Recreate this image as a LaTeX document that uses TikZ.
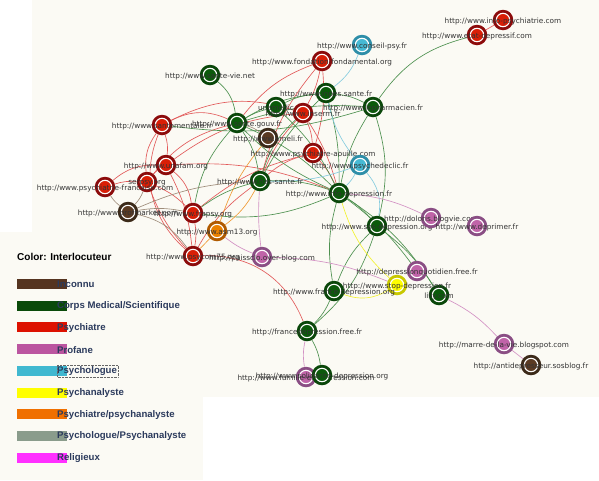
\documentclass[tikz,border=0pt]{standalone}
\usepackage{fontspec}
\setmainfont{DejaVu Sans}
\newfontfamily\legendfont{Liberation Sans}
\usepackage{tikz}
\usetikzlibrary{backgrounds}
\pgfdeclarelayer{edges}
\pgfsetlayers{background,edges,main}

\definecolor{panel}{HTML}{FBFAF4}
\definecolor{txtgray}{HTML}{333333}
\definecolor{legtxt}{HTML}{2B3A5C}
% rings (outer) and fills (inner)
\definecolor{ringred}{HTML}{8C0B0B}   \definecolor{fillred}{HTML}{D91E06}
\definecolor{ringgreen}{HTML}{0A470A} \definecolor{fillgreen}{HTML}{0B5A0B}
\definecolor{ringbrown}{HTML}{3C2A19} \definecolor{fillbrown}{HTML}{5A3A22}
\definecolor{ringpink}{HTML}{8A4E84}  \definecolor{fillpink}{HTML}{C064A8}
\definecolor{ringblue}{HTML}{2E8EA8}  \definecolor{fillblue}{HTML}{46B9D3}
\definecolor{ringyellow}{HTML}{C8C800}\definecolor{fillyellow}{HTML}{FFFF00}
\definecolor{ringorange}{HTML}{B05A00}\definecolor{fillorange}{HTML}{EA8000}
% edge colours
\definecolor{ered}{HTML}{E25A5A}
\definecolor{egreen}{HTML}{4E9150}
\definecolor{eblue}{HTML}{86CCDF}
\definecolor{epink}{HTML}{D392C4}
\definecolor{eyellow}{HTML}{F2F230}
\definecolor{eorange}{HTML}{F09A35}
\definecolor{ebrown}{HTML}{9E8C7A}
% legend colours
\definecolor{legbrown}{HTML}{553420}
\definecolor{leggreen}{HTML}{0A4A0A}
\definecolor{legred}{HTML}{DD1100}
\definecolor{legpink}{HTML}{BB55A0}
\definecolor{legblue}{HTML}{40B8D0}
\definecolor{legyellow}{HTML}{FFFF00}
\definecolor{legorange}{HTML}{F07000}
\definecolor{leggray}{HTML}{8A9C8C}
\definecolor{legmagenta}{HTML}{FF30FF}

\begin{document}
\begin{tikzpicture}[
			x=1pt, y=-1pt,
			site/.style 2 args={circle, inner sep=0pt, minimum size=20.5pt, fill=#1,
				path picture={
					\fill[#2] (path picture bounding box.center) circle (6.9pt);
					\draw[white, line width=1.1pt] (path picture bounding box.center) circle (6.7pt);}},
			psy/.style={site={ringred}{fillred}},
			med/.style={site={ringgreen}{fillgreen}},
			unk/.style={site={ringbrown}{fillbrown}},
			prof/.style={site={ringpink}{fillpink}},
			psylog/.style={site={ringblue}{fillblue}},
			psyana/.style={site={ringyellow}{fillyellow}},
			psypsy/.style={site={ringorange}{fillorange}},
			lbl/.style={font=\fontsize{7.3}{8}\selectfont, text=txtgray, inner sep=0pt, yshift=-1pt},
			link/.style={line width=0.65pt, draw=#1},
			swatch/.style={fill=#1, draw=none},
			legitem/.style={font=\legendfont\bfseries\fontsize{9.6}{11}\selectfont, text=legtxt, anchor=west, inner sep=0pt}
			]
			\useasboundingbox (0,0) rectangle (599,480);
			
			% fonds
			\begin{pgfonlayer}{background}
			\fill[white] (0,0) rectangle (599,480);
			\fill[panel] (32,0) rectangle (599,397);
			\fill[panel] (0,232) rectangle (203,480);
			\end{pgfonlayer}
			
			% sites
			\node[psy]    (infopsy)   at (503,20)  [label={[lbl]center:{http://www.info-psychiatrie.com}}] {};
			\node[psy]    (etatdep)   at (477,35)  [label={[lbl]center:{http://www.etat-depressif.com}}] {};
			\node[psylog] (conseil)   at (362,45)  [label={[lbl]center:{http://www.conseil-psy.fr}}] {};
			\node[psy]    (fondation) at (322,61)  [label={[lbl]center:{http://www.fondation-fondamental.org}}] {};
			\node[med]    (santevie)  at (210,75)  [label={[lbl]center:{http://www.sante-vie.net}}] {};
			\node[med]    (inpes)     at (326,93)  [label={[lbl]center:{http://www.inpes.sante.fr}}] {};
			\node[med]    (lepharm)   at (373,107) [label={[lbl]center:{http://www.lepharmacien.fr}}] {};
			\node[med]    (unamedic)  at (276,107) [label={[lbl]center:{unamedic}}] {};
			\node[psy]    (inserm)    at (303,113) [label={[lbl]center:{http://www.inserm.fr}}] {};
			\node[med]    (santegouv) at (237,123) [label={[lbl]center:{http://www.sante.gouv.fr}}] {};
			\node[psy]    (santement) at (162,125) [label={[lbl]center:{http://www.santementale.fr}}] {};
			\node[unk]    (ameli)     at (268,138) [label={[lbl]center:{http://www.ameli.fr}}] {};
			\node[psy]    (aouille)   at (313,153) [label={[lbl]center:{http://www.psychiatre-aouille.com}}] {};
			\node[psylog] (psydeclic) at (360,165) [label={[lbl]center:{http://www.psychedeclic.fr}}] {};
			\node[psy]    (unafam)    at (166,165) [label={[lbl]center:{http://www.unafam.org}}] {};
			\node[med]    (hassante)  at (260,181) [label={[lbl]center:{http://www.has-sante.fr}}] {};
			\node[med]    (infodep)   at (339,193) [label={[lbl]center:{http://www.info-depression.fr}}] {};
			\node[psy]    (serpsy)    at (147,182) [label={[lbl]center:{serpsy.org}}] {};
			\node[psy]    (psyfr)     at (105,187) [label={[lbl]center:{http://www.psychiatrie-francaise.com}}] {};
			\node[unk]    (profmkt)   at (128,212) [label={[lbl]center:{http://www.profmarket.com}}] {};
			\node[psy]    (frapsy)    at (193,213) [label={[lbl]center:{http://www.frapsy.org}}] {};
			\node[psypsy] (asm)       at (217,231) [label={[lbl]center:{http://www.asm13.org}}] {};
			\node[psy]    (psycom)    at (193,256) [label={[lbl]center:{http://www.psycom75.org}}] {};
			\node[prof]   (paissclo)  at (262,257) [label={[lbl]center:{http://paissclo.over-blog.com}}] {};
			\node[med]    (sosdep)    at (377,226) [label={[lbl]center:{http://www.sos-depression.org}}] {};
			\node[prof]   (doloris)   at (431,218) [label={[lbl]center:{http://doloris.blogvie.com}}] {};
			\node[prof]   (deprimer)  at (477,226) [label={[lbl]center:{http://www.deprimer.fr}}] {};
			\node[prof]   (depquot)   at (417,271) [label={[lbl]center:{http://depressionquotidien.free.fr}}] {};
			\node[med]    (lilly)     at (439,295) [label={[lbl]center:{lilly.com}}] {};
			\node[psyana] (stopdep)   at (397,285) [label={[lbl]center:{http://www.stop-depression.fr}}] {};
			\node[med]    (francedep) at (334,291) [label={[lbl]center:{http://www.france-depression.org}}] {};
			\node[med]    (fdfree)    at (307,331) [label={[lbl]center:{http://francedepression.free.fr}}] {};
			\node[prof]   (famille)   at (306,377) [label={[lbl]center:{http://www.famille-et-depression.com}}] {};
			\node[med]    (solidep)   at (322,375) [label={[lbl]center:{http://www.solidarite-depression.org}}] {};
			\node[prof]   (marre)     at (504,344) [label={[lbl]center:{http://marre-de-la-vie.blogspot.com}}] {};
			\node[unk]    (antidep)   at (531,365) [label={[lbl]center:{http://antidepresseur.sosblog.fr}}] {};
			
			% liens
			\begin{pgfonlayer}{edges}
			% psychiatres
			\draw[link=ered] (infopsy) -- (etatdep);
			\draw[link=ered] (fondation) to[bend left=8] (inserm);
			\draw[link=ered] (fondation) to[bend right=15] (santegouv);
			\draw[link=ered] (fondation) to[bend left=10] (aouille);
			\draw[link=ered] (fondation) to[bend right=12] (hassante);
			\draw[link=ered] (santement) to[bend left=25] (santegouv);
			\draw[link=ered] (santement) to[bend left=22] (inserm);
			\draw[link=ered] (santement) to[bend left=12] (unafam);
			\draw[link=ered] (santement) to[bend right=20] (serpsy);
			\draw[link=ered] (santement) to[bend right=35] (psycom);
			\draw[link=ered] (unafam) to[bend right=10] (serpsy);
			\draw[link=ered] (unafam) to[bend left=20] (frapsy);
			\draw[link=ered] (unafam) to[bend left=15] (inserm);
			\draw[link=ered] (unafam) to[bend left=12] (infodep);
			\draw[link=ered] (unafam) to[bend left=10] (psycom);
			\draw[link=ered] (psyfr) to[bend left=10] (serpsy);
			\draw[link=ered] (psyfr) to[bend left=20] (unafam);
			\draw[link=ered] (serpsy) to[bend left=10] (frapsy);
			\draw[link=ered] (serpsy) to[bend left=18] (santegouv);
			\draw[link=ered] (serpsy) to[bend right=10] (psycom);
			\draw[link=ered] (frapsy) to[bend left=10] (psycom);
			\draw[link=ered] (frapsy) to[bend left=12] (aouille);
			\draw[link=ered] (psycom) to[bend left=35] (fdfree);
			\draw[link=ered] (psycom) to[bend left=12] (hassante);
			\draw[link=ered] (inserm) to[bend left=10] (aouille);
			\draw[link=ered] (inserm) to[bend right=10] (hassante);
			\draw[link=ered] (inserm) to[bend left=8] (infodep);
			\draw[link=ered] (aouille) to[bend left=8] (infodep);
			\draw[link=ered] (aouille) to[bend right=12] (hassante);
			% medical / scientifique
			\draw[link=egreen] (santevie) to[bend left=20] (santegouv);
			\draw[link=egreen] (santegouv) to[bend left=12] (inpes);
			\draw[link=egreen] (santegouv) to[bend left=10] (lepharm);
			\draw[link=egreen] (santegouv) to[bend left=12] (hassante);
			\draw[link=egreen] (santegouv) to[bend right=10] (infodep);
			\draw[link=egreen] (santegouv) to[bend left=8] (unamedic);
			\draw[link=egreen] (santegouv) to[bend right=15] (frapsy);
			\draw[link=egreen] (inpes) to[bend left=10] (lepharm);
			\draw[link=egreen] (inpes) to[bend right=8] (hassante);
			\draw[link=egreen] (inpes) to[bend left=8] (infodep);
			\draw[link=egreen] (inpes) to[bend right=10] (unamedic);
			\draw[link=egreen] (lepharm) to[bend left=20] (etatdep);
			\draw[link=egreen] (lepharm) to[bend right=10] (infodep);
			\draw[link=egreen] (lepharm) to[bend left=15] (sosdep);
			\draw[link=egreen] (lepharm) to[bend left=12] (santement);
			\draw[link=egreen] (unamedic) to[bend left=10] (infodep);
			\draw[link=egreen] (hassante) to[bend left=10] (infodep);
			\draw[link=egreen] (hassante) to[bend right=10] (frapsy);
			\draw[link=egreen] (hassante) to[bend left=15] (inserm);
			\draw[link=egreen] (infodep) to[bend left=8] (sosdep);
			\draw[link=egreen] (infodep) to[bend left=12] (lilly);
			\draw[link=egreen] (infodep) to[bend left=8] (depquot);
			\draw[link=egreen] (infodep) to[bend right=12] (francedep);
			\draw[link=egreen] (infodep) to[bend left=15] (frapsy);
			\draw[link=egreen] (infodep) to[bend right=10] (santegouv);
			\draw[link=egreen] (sosdep) to[bend right=12] (francedep);
			\draw[link=egreen] (sosdep) to[bend left=10] (lilly);
			\draw[link=egreen] (sosdep) to[bend left=15] (fdfree);
			\draw[link=egreen] (francedep) to[bend left=10] (fdfree);
			\draw[link=egreen] (fdfree) to[bend left=10] (solidep);
			% psychologues
			\draw[link=eblue] (conseil) to[bend left=15] (inpes);
			\draw[link=eblue] (psydeclic) to[bend left=8] (infodep);
			\draw[link=eblue] (psydeclic) to[bend left=25] (sosdep);
			\draw[link=eblue] (psydeclic) to[bend left=10] (hassante);
			\draw[link=eblue] (psydeclic) to[bend left=12] (inpes);
			% profanes
			\draw[link=epink] (paissclo) to[bend left=5] (hassante);
			\draw[link=epink] (paissclo) to[bend left=8] (asm);
			\draw[link=epink] (paissclo) to[bend left=10] (stopdep);
			\draw[link=epink] (doloris) to[bend right=10] (infodep);
			\draw[link=epink] (lilly) to[bend left=10] (marre);
			\draw[link=epink] (marre) -- (antidep);
			\draw[link=epink] (fdfree) to[bend right=10] (famille);
			% psychanalyste
			\draw[link=eyellow] (stopdep) to[bend left=15] (infodep);
			\draw[link=eyellow] (stopdep) to[bend left=25] (francedep);
			% psychiatre/psychanalyste
			\draw[link=eorange] (asm) to[bend right=12] (hassante);
			\draw[link=eorange] (asm) to[bend left=10] (ameli);
			\draw[link=eorange] (asm) -- (psycom);
			% inconnus
			\draw[link=ebrown] (profmkt) to[bend left=10] (psyfr);
			\draw[link=ebrown] (profmkt) to[bend right=10] (serpsy);
			\draw[link=ebrown] (profmkt) to[bend left=20] (psycom);
			\draw[link=ebrown] (profmkt) to[bend left=10] (frapsy);
			\draw[link=ebrown] (profmkt) to[bend left=10] (hassante);
			\draw[link=ebrown] (ameli) to[bend right=10] (santegouv);
			\end{pgfonlayer}
			
			% legende
			\node[font=\legendfont\bfseries\fontsize{10}{12}\selectfont, anchor=west, inner sep=0pt] (legtitle) at (17,257) {Color: Interlocuteur};
			\foreach \col/\txt [count=\i from 0] in {legbrown/Inconnu, leggreen/Corps Medical\slash Scientifique,
				legred/Psychiatre, legpink/Profane, legblue/Psychologue, legyellow/Psychanalyste,
				legorange/Psychiatre\slash psychanalyste, leggray/Psychologue\slash Psychanalyste, legmagenta/Religieux}{
				\fill[swatch=\col] (17,{279+21.7*\i}) rectangle (67,{289+21.7*\i});
				\node[legitem] (leg\i) at (57,{284.5+21.7*\i}) {\txt};
			}
			\draw[densely dotted, black!60, line width=0.4pt] (57,365) rectangle (118,377);
			
		\end{tikzpicture}
\end{document}
